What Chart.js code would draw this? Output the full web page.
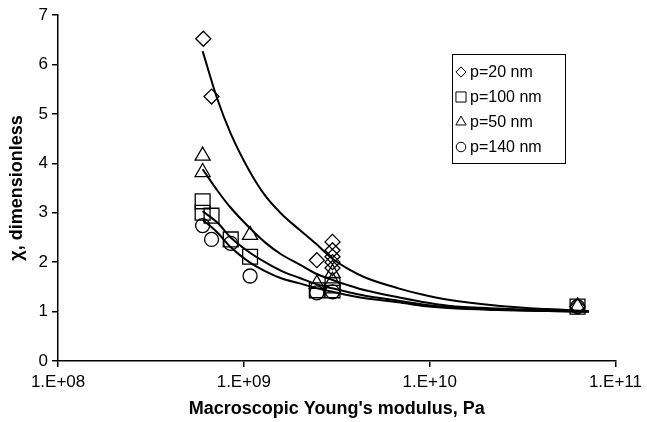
<!DOCTYPE html>
<html>
<head>
<meta charset="utf-8">
<script src="https://cdn.jsdelivr.net/npm/chart.js@4.4.0/dist/chart.umd.min.js"></script>
<style>
html,body{margin:0;padding:0;background:#fff}
#wrap{width:647px;height:422px}
</style>
</head>
<body>
<div id="wrap"><canvas id="c"></canvas></div>
<script>
const seriesNames = ['p=20 nm', 'p=100 nm', 'p=50 nm', 'p=140 nm']

const p20X = [6.05e8, 6.7e8, 2.47e9, 3.0e9, 3.0e9, 3.0e9, 3.0e9, 3.0e9, 6.25e10]
const p20Y = [6.52, 5.35, 2.04, 2.41, 2.24, 2.11, 2.0, 1.88, 1.1]

const p100X = [6.0e8, 6.0e8, 6.7e8, 8.5e8, 1.08e9, 2.47e9, 3.0e9, 3.0e9, 6.25e10]
const p100Y = [3.23, 3.0, 2.94, 2.46, 2.11, 1.43, 1.53, 1.43, 1.1]

const p50X = [6.0e8, 6.0e8, 1.08e9, 2.47e9, 3.0e9, 3.0e9, 6.25e10]
const p50Y = [4.15, 3.82, 2.55, 1.56, 1.78, 1.62, 1.1]

const p140X = [6.0e8, 6.7e8, 8.5e8, 1.08e9, 2.47e9, 3.0e9, 6.25e10]
const p140Y = [2.74, 2.46, 2.38, 1.72, 1.38, 1.4, 1.1]

// fitted curves, sampled from the figure
const fitX = [6.0e8, 7.2e8, 8.5e8, 1.07e9, 1.3e9, 1.6e9, 2.0e9, 2.43e9, 3.0e9, 3.66e9, 4.5e9, 6.79e9, 9.0e9, 1.26e10, 2.33e10, 4.31e10, 7.2e10]
const fit20 = [6.27, 5.3, 4.6, 3.85, 3.35, 2.97, 2.65, 2.38, 2.07, 1.86, 1.69, 1.47, 1.35, 1.24, 1.12, 1.05, 1.01]
const fit50 = [3.88, 3.45, 3.1, 2.7, 2.4, 2.15, 1.95, 1.77, 1.64, 1.53, 1.43, 1.29, 1.2, 1.12, 1.06, 1.02, 1.0]
const fit100 = [3.03, 2.8, 2.5, 2.2, 2.0, 1.82, 1.68, 1.56, 1.47, 1.39, 1.32, 1.22, 1.15, 1.09, 1.04, 1.01, 1.0]
const fit140 = [2.86, 2.6, 2.3, 2.0, 1.82, 1.67, 1.57, 1.48, 1.4, 1.33, 1.27, 1.19, 1.12, 1.07, 1.03, 1.01, 1.0]

const xTicks = [1e8, 1e9, 1e10, 1e11]

const FONT = "'Liberation Sans', Arial, sans-serif"

function pts(xs, ys){
  return xs.map((x, i) => ({x: x, y: ys[i]}))
}

function markers(label, xs, ys, style, r){
  return {
    type: 'scatter', label: label, data: pts(xs, ys),
    pointStyle: style, pointRadius: r, pointHoverRadius: r,
    pointBorderColor: '#000', pointBackgroundColor: 'rgba(0,0,0,0)',
    pointBorderWidth: 1.3, showLine: false, order: 1
  }
}

function curve(ys){
  return {
    type: 'line', label: '', data: pts(fitX, ys),
    borderColor: '#000', borderWidth: 2, pointRadius: 0,
    fill: false, cubicInterpolationMode: 'monotone', order: 2
  }
}

// legend drawn inside the plot, like the original
const legendBox = {
  id: 'legendBox',
  afterDatasetsDraw(chart){
    const ctx = chart.ctx
    const x0 = 452, y0 = 54, w = 113, h = 109
    ctx.save()
    ctx.fillStyle = '#fff'
    ctx.fillRect(x0, y0, w, h)
    ctx.strokeStyle = '#000'
    ctx.lineWidth = 1
    ctx.strokeRect(x0 + 0.5, y0 + 0.5, w, h)
    const sets = chart.data.datasets.filter(d => d.type === 'scatter')
    sets.forEach((d, i) => {
      const cy = y0 + 18 + i * 25
      ctx.strokeStyle = '#000'
      ctx.fillStyle = 'rgba(0,0,0,0)'
      Chart.helpers.drawPoint(ctx, {
        pointStyle: d.pointStyle, rotation: 0,
        radius: d.pointRadius * 0.68, borderWidth: 1.1
      }, x0 + 9, cy)
      ctx.fillStyle = '#000'
      ctx.font = '16px ' + FONT
      ctx.textBaseline = 'middle'
      ctx.textAlign = 'left'
      ctx.fillText(d.label, x0 + 18, cy + 1)
    })
    ctx.restore()
  }
}

new Chart(document.getElementById('c'), {
  data: {
    datasets: [
      markers(seriesNames[0], p20X, p20Y, 'rectRot', 7.5),
      markers(seriesNames[1], p100X, p100Y, 'rect', 10.5),
      markers(seriesNames[2], p50X, p50Y, 'triangle', 8.7),
      markers(seriesNames[3], p140X, p140Y, 'circle', 7),
      curve(fit20), curve(fit50), curve(fit100), curve(fit140)
    ]
  },
  options: {
    responsive: true,
    maintainAspectRatio: false,
    animation: false,
    layout: {padding: {top: 15, right: 0, bottom: 2, left: 4}},
    plugins: {legend: {display: false}, tooltip: {enabled: false}},
    scales: {
      x: {
        type: 'logarithmic', min: 1e8, max: 1e11,
        afterBuildTicks: s => { s.ticks = xTicks.map(v => ({value: v})) },
        ticks: {
          color: '#000', font: {family: FONT, size: 17}, padding: 5,
          maxRotation: 0, autoSkip: false,
          callback: v => '1.E+' + String(Math.round(Math.log10(v))).padStart(2, '0')
        },
        grid: {drawOnChartArea: false, drawTicks: true, tickLength: 6, color: '#000', lineWidth: 1.5},
        border: {display: true, color: '#000', width: 1.5},
        title: {display: true, text: "Macroscopic Young's modulus, Pa", color: '#000',
          font: {family: FONT, size: 18, weight: 'bold'}, padding: {top: 1, bottom: 0}}
      },
      y: {
        min: 0, max: 7,
        ticks: {stepSize: 1, color: '#000', font: {family: FONT, size: 17}, padding: 4},
        grid: {drawOnChartArea: false, drawTicks: true, tickLength: 6, color: '#000', lineWidth: 1.5},
        border: {display: true, color: '#000', width: 1.5},
        title: {display: true, text: 'χ, dimensionless', color: '#000',
          font: {family: FONT, size: 18, weight: 'bold'}, padding: {top: 2, bottom: 7}}
      }
    }
  },
  plugins: [legendBox]
})
</script>
</body>
</html>
